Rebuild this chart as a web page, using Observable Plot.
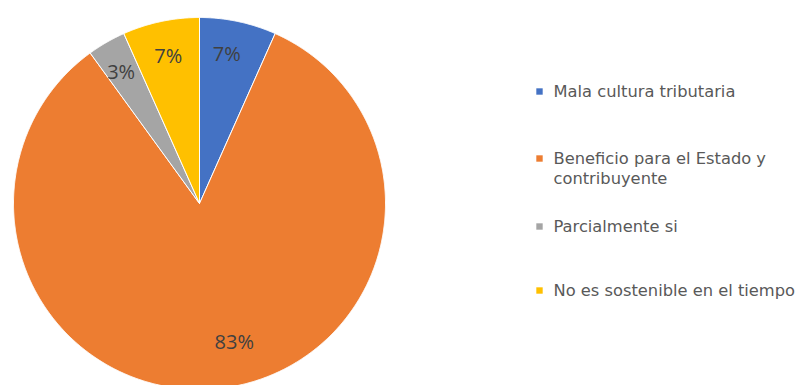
<!DOCTYPE html>
<html><head><meta charset="utf-8">
<script src="https://cdn.jsdelivr.net/npm/d3@7"></script>
<script src="https://cdn.jsdelivr.net/npm/@observablehq/plot@0.6"></script>
<style>html,body{margin:0;padding:0;background:#fff;overflow:hidden}</style>
</head><body><div id="chart"></div>
<script>
const categories = ["Mala cultura tributaria", "Beneficio para el Estado y\ncontribuyente", "Parcialmente si", "No es sostenible en el tiempo"];
const counts = [2, 25, 1, 2];
const percentLabels = ["7%", "83%", "3%", "7%"];
const colors = ["#4472C4", "#ED7D31", "#A5A5A5", "#FFC000"];

// style: per-label pixel nudges
const labelNudge = [[-4, -2], [19, -11], [-3, 0], [0, 0]];

const arcs = d3.pie().sort(null)(counts);
const poly = [];
arcs.forEach((a, i) => {
  poly.push({cat: categories[i], x: 0, y: 0});
  const n = Math.max(8, Math.ceil((a.endAngle - a.startAngle) / 0.005));
  for (let k = 0; k <= n; k++) {
    const t = a.startAngle + (a.endAngle - a.startAngle) * k / n;
    poly.push({cat: categories[i], x: Math.sin(t), y: Math.cos(t)});
  }
  poly.push({cat: categories[i], x: 0, y: 0});
});
const labelPts = arcs.map((a, i) => {
  const m = (a.startAngle + a.endAngle) / 2;
  const r = 0.81;
  return {label: percentLabels[i], x: r * Math.sin(m), y: r * Math.cos(m), i};
});

const legendY = [91, 158, 226, 290];
const legendMarks = categories.flatMap((c, i) => [
  Plot.dot([0], {frameAnchor: "top-left", dx: 539, dy: legendY[i], symbol: "square", r: 3.6, fill: colors[i]}),
  ...c.split("\n").map((line, j) =>
    Plot.text([line], {frameAnchor: "top-left", dx: 553, dy: legendY[i] + j * 20, text: d => d, textAnchor: "start", lineAnchor: "middle", fontSize: 16.3, fill: "#595959", fontFamily: "DejaVu Sans"}))
]);

const chart = Plot.plot({
  width: 811, height: 385, margin: 0,
  style: {background: "#fff", fontFamily: "Open Sans"},
  x: {domain: [-1, 1], range: [13, 385], axis: null},
  y: {domain: [-1, 1], range: [389, 17], axis: null},
  color: {domain: categories, range: colors},
  marks: [
    Plot.line(poly, {x: "x", y: "y", z: "cat", fill: "cat", stroke: "#fff", strokeWidth: 1, curve: "linear"}),
    ...labelPts.map(p => Plot.text([p], {x: "x", y: "y", text: "label", dx: labelNudge[p.i][0], dy: labelNudge[p.i][1], fontSize: 20, fill: "#404040", fontFamily: "Open Sans"})),
    ...legendMarks
  ]
});
document.getElementById("chart").appendChild(chart);
</script></body></html>
